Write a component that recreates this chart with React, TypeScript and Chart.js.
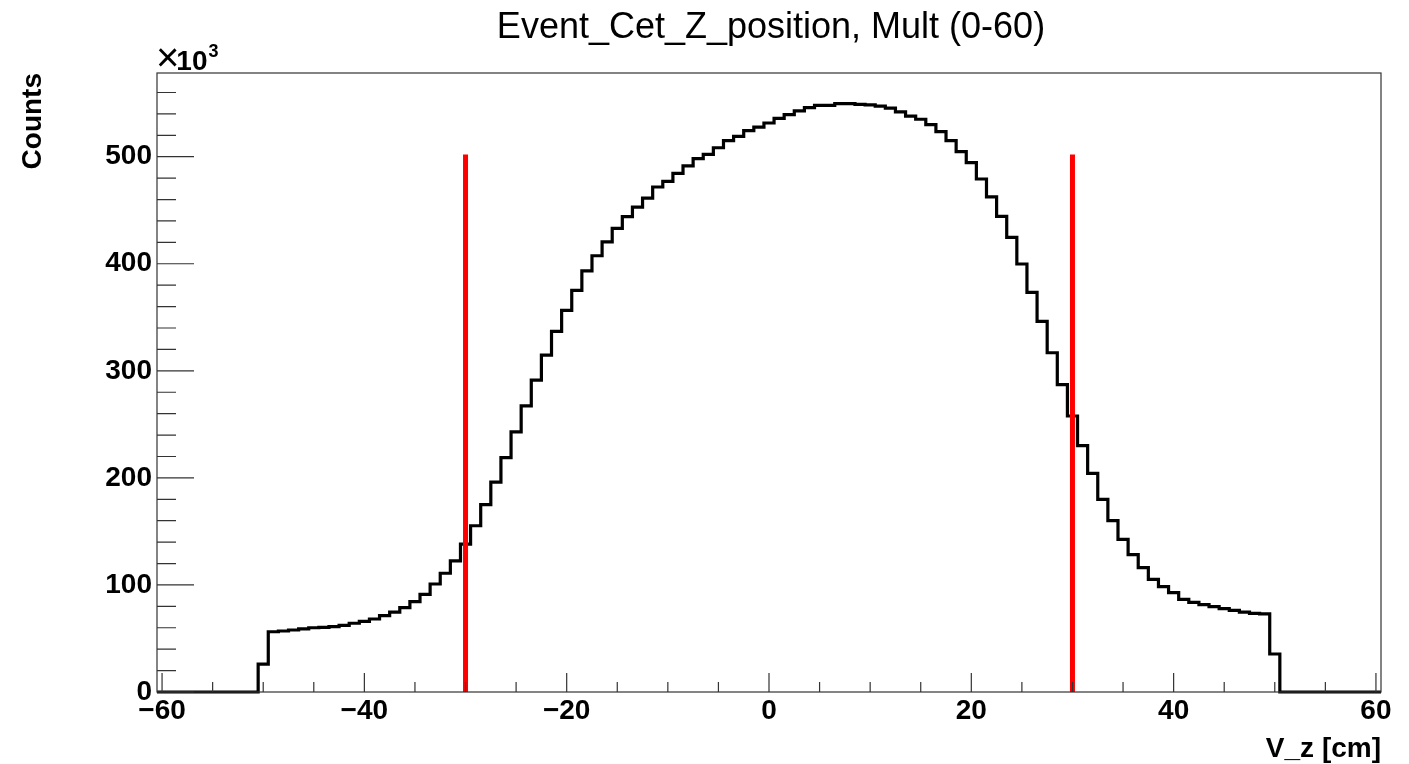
import { useEffect, useRef } from "react";
import { Chart, registerables } from "chart.js";

Chart.register(...registerables);

// Histogram: 1 cm bins centred on integers, counts in thousands
const binCenters = [
  -60, -59, -58, -57, -56, -55, -54, -53, -52, -51,
  -50, -49, -48, -47, -46, -45, -44, -43, -42, -41,
  -40, -39, -38, -37, -36, -35, -34, -33, -32, -31,
  -30, -29, -28, -27, -26, -25, -24, -23, -22, -21,
  -20, -19, -18, -17, -16, -15, -14, -13, -12, -11,
  -10, -9, -8, -7, -6, -5, -4, -3, -2, -1,
  0, 1, 2, 3, 4, 5, 6, 7, 8, 9,
  10, 11, 12, 13, 14, 15, 16, 17, 18, 19,
  20, 21, 22, 23, 24, 25, 26, 27, 28, 29,
  30, 31, 32, 33, 34, 35, 36, 37, 38, 39,
  40, 41, 42, 43, 44, 45, 46, 47, 48, 49,
  50, 51, 52, 53, 54, 55, 56, 57, 58, 59, 60,
];

const counts = [
  0, 0, 0, 0, 0, 0, 0, 0, 0, 0,
  26, 56.3, 57, 57.9, 59, 60, 60.3, 61, 62.3, 64.2,
  66, 68.2, 71.3, 74.7, 78.8, 84.4, 91.2, 100.9, 110.9, 122.4,
  138.2, 155.3, 175, 196, 219, 243, 267.2, 291.4, 314.6, 336.8,
  356.4, 375.2, 393.3, 407.5, 420.5, 433, 444, 453, 461.4, 471.7,
  477, 484.5, 491.4, 498.2, 502.2, 508.4, 515, 519, 524.3, 527.7,
  531.5, 535.8, 539.4, 542.8, 545.8, 548, 548, 549.6, 549.6, 548.9,
  548.5, 547.2, 545.4, 541.8, 538, 535, 530, 523.4, 515, 504.7,
  494.4, 479.2, 462.4, 444.3, 424.7, 399.8, 373.3, 346.2, 316.9, 287.1,
  257.8, 230.1, 204.3, 180, 160, 142.6, 128.3, 116.1, 105.2, 98.4,
  92.8, 86.6, 83.8, 81.6, 79.7, 77.8, 76.3, 74.7, 73.5, 72.9,
  35.5, 0, 0, 0, 0, 0, 0, 0, 0, 0, 0,
];

const binWidth = 1;
const cutPositions = [-30, 30];
const cutHeight = 502;

const xRange = [-60.5, 60.5];
const yRange = [0, 578.2];
const xTickLabels = [-60, -40, -20, 0, 20, 40, 60];
const xMinorTicks = [
  -60, -55, -50, -45, -40, -35, -30, -25, -20, -15, -10, -5, 0,
  5, 10, 15, 20, 25, 30, 35, 40, 45, 50, 55, 60,
];
const yTickLabels = [0, 100, 200, 300, 400, 500];
const yMinorTicks = [
  0, 20, 40, 60, 80, 100, 120, 140, 160, 180, 200, 220, 240, 260, 280,
  300, 320, 340, 360, 380, 400, 420, 440, 460, 480, 500, 520, 540, 560,
];

const titleText = "Event_Cet_Z_position, Mult (0-60)";
const xTitle = "V_z [cm]";
const yTitle = "Counts";

const FONT = "'Liberation Sans', Arial, Helvetica, sans-serif";

const fmt = (v: number) => (v < 0 ? "\u2212" + Math.abs(v) : String(v));

const rootStyle = {
  id: "rootStyle",
  afterDatasetsDraw(chart: any) {
    const { ctx, chartArea: a } = chart;
    const xs = chart.scales.x;
    const ys = chart.scales.y;
    ctx.save();
    ctx.strokeStyle = "#333";
    ctx.lineWidth = 1.2;
    ctx.strokeRect(a.left, a.top, a.right - a.left, a.bottom - a.top);
    ctx.beginPath();
    for (const v of xMinorTicks) {
      const px = xs.getPixelForValue(v);
      const len = xTickLabels.includes(v) ? 19 : 10;
      ctx.moveTo(px, a.bottom);
      ctx.lineTo(px, a.bottom - len);
    }
    for (const v of yMinorTicks) {
      const py = ys.getPixelForValue(v);
      const len = yTickLabels.includes(v) ? 37 : 19;
      ctx.moveTo(a.left, py);
      ctx.lineTo(a.left + len, py);
    }
    ctx.stroke();
    ctx.restore();
  },
  afterDraw(chart: any) {
    const { ctx, chartArea: a } = chart;
    ctx.save();
    ctx.fillStyle = "#000";
    // title
    ctx.font = `36px ${FONT}`;
    ctx.textAlign = "center";
    ctx.textBaseline = "alphabetic";
    ctx.fillText(titleText, 771, 38);
    // x10^3
    ctx.textAlign = "left";
    ctx.font = `40px ${FONT}`;
    ctx.fillText("\u00d7", a.left - 1, 71);
    const wx = ctx.measureText("\u00d7").width;
    ctx.font = `bold 28px ${FONT}`;
    ctx.fillText("10", a.left + wx - 4, 70);
    const w10 = ctx.measureText("10").width;
    ctx.font = `bold 18px ${FONT}`;
    ctx.fillText("3", a.left + wx - 4 + w10 + 1, 57);
    // x title
    ctx.font = `bold 28px ${FONT}`;
    ctx.textAlign = "right";
    ctx.fillText(xTitle, a.right, 757);
    // y title
    ctx.translate(33, a.top);
    ctx.rotate(-Math.PI / 2);
    ctx.textAlign = "right";
    ctx.textBaseline = "middle";
    ctx.fillText(yTitle, 0, 0);
    ctx.restore();
  },
};

export default function App() {
  const ref = useRef<HTMLCanvasElement | null>(null);
  useEffect(() => {
    document.body.style.margin = "0";
    const canvas = ref.current;
    if (!canvas) return;
    const histPoints = binCenters.flatMap((c, i) => [
      { x: c - binWidth / 2, y: counts[i] },
      { x: c + binWidth / 2, y: counts[i] },
    ]);
    const cutSets = cutPositions.map((p) => ({
      label: "cut " + p,
      data: [
        { x: p, y: 0 },
        { x: p, y: cutHeight },
      ],
      borderColor: "#ff0000",
      borderWidth: 5,
      pointRadius: 0,
      fill: false,
      order: 0,
      clip: false as any,
    }));
    const tickFont = { family: FONT, size: 28, weight: "bold" as const };
    const chart = new Chart(canvas, {
      type: "line",
      data: {
        datasets: [
          ...cutSets,
          {
            label: "V_z",
            data: histPoints,
            borderColor: "#000",
            borderWidth: 3.2,
            pointRadius: 0,
            fill: false,
            tension: 0,
            borderJoinStyle: "miter",
            order: 1,
            clip: false as any,
          },
        ],
      },
      options: {
        responsive: false,
        animation: false,
        parsing: true,
        layout: { padding: { top: 73, right: 28, left: 0, bottom: 0 } },
        plugins: {
          legend: { display: false },
          title: { display: false },
          tooltip: { enabled: false },
        },
        scales: {
          x: {
            type: "linear",
            min: xRange[0],
            max: xRange[1],
            afterBuildTicks: (s: any) => {
              s.ticks = xTickLabels.map((v) => ({ value: v }));
            },
            afterFit: (s: any) => {
              s.height = 72;
            },
            ticks: {
              callback: (v: any) => fmt(Number(v)),
              font: tickFont,
              color: "#000",
              padding: 2,
              maxRotation: 0,
              minRotation: 0,
              autoSkip: false,
            },
            grid: { display: false, drawTicks: false },
            border: { display: false },
          },
          y: {
            type: "linear",
            min: yRange[0],
            max: yRange[1],
            afterBuildTicks: (s: any) => {
              s.ticks = yTickLabels.map((v) => ({ value: v }));
            },
            afterFit: (s: any) => {
              s.width = 157;
            },
            ticks: {
              callback: (v: any) => fmt(Number(v)),
              font: tickFont,
              color: "#000",
              padding: 5,
              autoSkip: false,
            },
            grid: { display: false, drawTicks: false },
            border: { display: false },
          },
        },
      },
      plugins: [rootStyle],
    });
    return () => chart.destroy();
  }, []);
  return (
    <canvas
      ref={ref}
      width={1409}
      height={764}
      style={{ display: "block", width: 1409, height: 764 }}
    />
  );
}
